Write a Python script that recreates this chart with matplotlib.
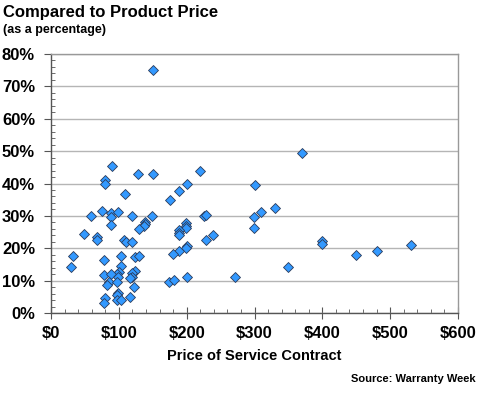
import matplotlib
matplotlib.use("Agg")
import matplotlib.pyplot as plt
from matplotlib.ticker import MultipleLocator, FuncFormatter

plt.rcParams['font.family'] = ['Liberation Sans', 'DejaVu Sans']

price = [150, 370, 90, 80, 80, 128, 150, 220, 200, 188, 175, 109, 300,
         75, 59, 89, 89, 99, 119, 149, 89, 139, 139, 137, 129, 48, 68, 68,
         108, 110, 120, 225, 229, 299, 310, 330, 299, 199, 199, 199, 189,
         189, 189, 239, 228, 200, 199, 189, 180, 174, 181, 200, 271, 350,
         400, 400, 450, 481, 530, 29, 33, 78, 103, 124, 129, 103, 100, 98,
         78, 88, 124, 120, 119, 117, 99, 86, 83, 98, 122, 99, 98, 80, 78,
         98, 103, 116]
percent = [75, 49.5, 45.3, 41, 40, 43, 43, 44, 40, 37.8, 35, 36.8, 39.5,
           31.6, 30.1, 31, 29.8, 31.3, 30.1, 30.1, 27.2, 28.2, 27.5, 27, 26,
           24.5, 23.6, 22.5, 22.5, 22, 21.8, 30, 30.3, 29.8, 31.1, 32.5, 26.2,
           27.7, 26.9, 26.2, 25.6, 24.8, 24.1, 24.1, 22.6, 20.7, 20.2, 19,
           18.1, 9.6, 10.1, 11.2, 11.2, 14.1, 22.2, 21.3, 17.9, 19.2, 21,
           14.3, 17.7, 16.5, 17.6, 17.4, 17.7, 14.5, 12.8, 12.2, 11.6, 12,
           13, 12.3, 11.2, 10.7, 11.2, 9.7, 8.6, 9.7, 8.1, 6.1, 5.5, 4.5, 3.2,
           4, 4, 4.8]

x_ticks = [0, 100, 200, 300, 400, 500, 600]
y_ticks = [0, 10, 20, 30, 40, 50, 60, 70, 80]

fig = plt.figure(figsize=(4.8, 4.0), dpi=100)
ax = fig.add_axes([51/480, 1-313/400, (458-51)/480, (313-54)/400])

ax.plot(price, percent, linestyle='none', marker='D', ms=5,
        mfc='#3399FF', mec='#2a3a5a', mew=0.6, zorder=3, clip_on=False)

ax.set_xlim(0, 600)
ax.set_ylim(0, 80)
ax.set_xticks(x_ticks)
ax.set_yticks(y_ticks)
ax.xaxis.set_minor_locator(MultipleLocator(20))
ax.yaxis.set_minor_locator(MultipleLocator(2))
ax.xaxis.set_major_formatter(FuncFormatter(lambda v, p: f"${int(v)}"))
ax.yaxis.set_major_formatter(FuncFormatter(lambda v, p: f"{int(v)}%"))

ax.grid(axis='y', which='major', color='#b5b5b5', lw=1.0, zorder=0)
ax.set_axisbelow(True)

for s in ['left', 'bottom']:
    ax.spines[s].set_color('#555555')
    ax.spines[s].set_linewidth(1.0)
for s in ['top', 'right']:
    ax.spines[s].set_color('#999999')
    ax.spines[s].set_linewidth(1.0)

ax.tick_params(axis='x', which='major', direction='inout', length=8,
               width=0.8, color='#555555', labelsize=12, pad=5)
ax.tick_params(axis='y', which='major', direction='out', length=5,
               width=0.8, color='#555555', labelsize=12, pad=6.5)
ax.tick_params(which='minor', direction='in', length=3, width=0.6,
               color='#555555')
for lab in ax.get_xticklabels() + ax.get_yticklabels():
    lab.set_fontweight('bold')

ax.set_xlabel('Price of Service Contract', fontsize=10.5,
              fontweight='bold', labelpad=6)

fig.text(3/480, 1-12/400, 'Compared to Product Price', fontsize=12,
         fontweight='bold', ha='left', va='center')
fig.text(3/480, 1-30/400, '(as a percentage)', fontsize=9,
         fontweight='bold', ha='left', va='center')
fig.text(476/480, 1-379/400, 'Source: Warranty Week', fontsize=8,
         fontweight='bold', ha='right', va='center')

fig.savefig('out.png', dpi=100)
